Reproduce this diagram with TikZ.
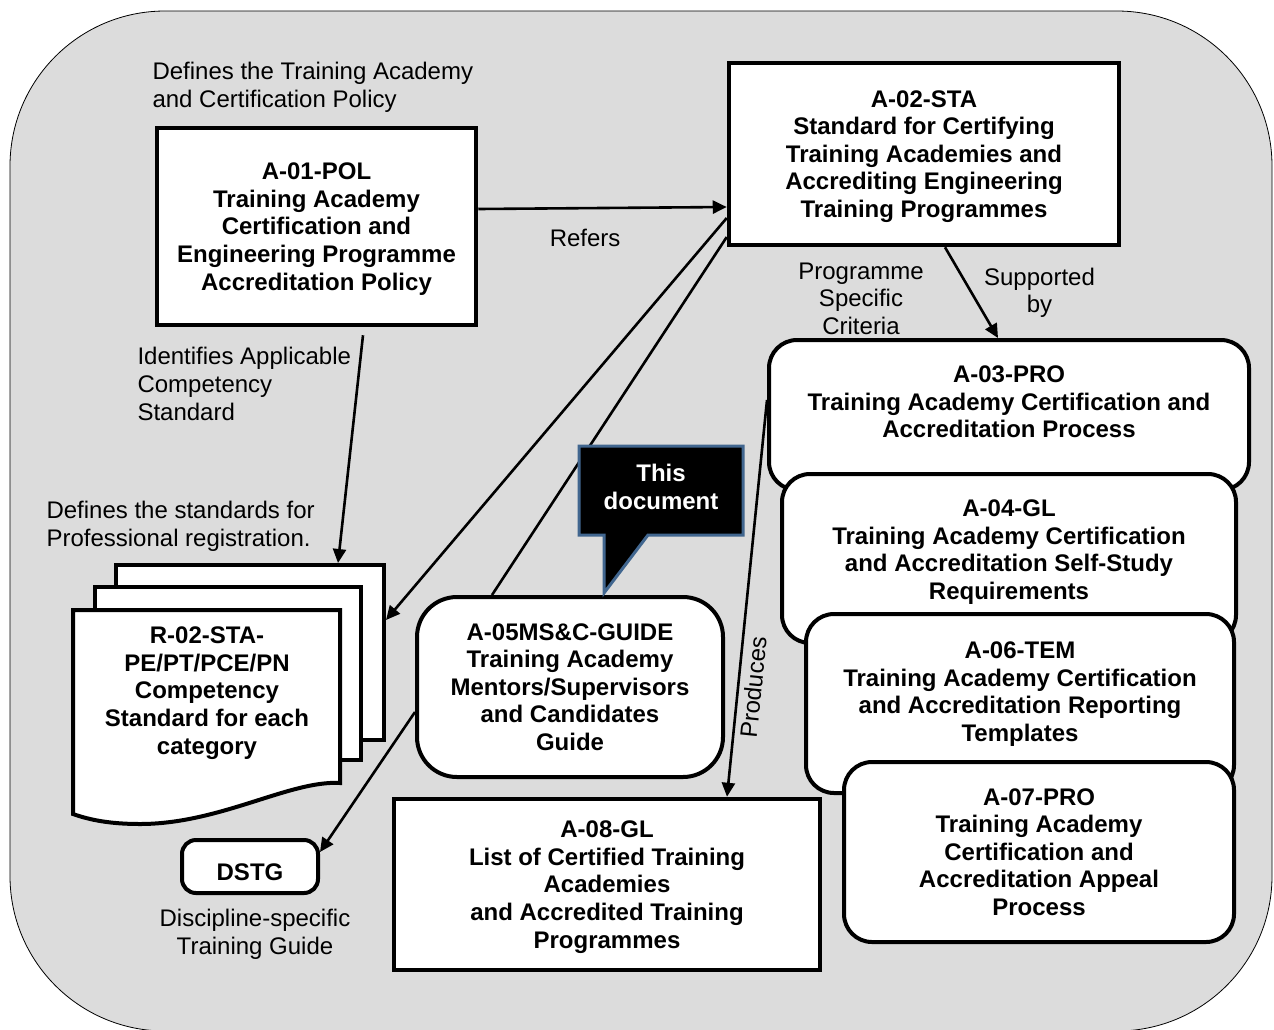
\documentclass[tikz,border=0pt]{standalone}
\usepackage{fontspec}
\setmainfont{Liberation Sans}
\usetikzlibrary{arrows.meta,positioning}

\definecolor{panelgray}{RGB}{220,220,220}
\definecolor{calloutblue}{RGB}{65,102,143}
\newcommand{\diagsize}{\fontsize{24}{27.6}\selectfont}

\tikzset{
  docbox/.style={draw, line width=4.5pt, fill=white, align=center, inner sep=0pt, font=\diagsize\bfseries},
  roundbox/.style={docbox, line width=4pt, rounded corners=28pt},
  page/.style={draw, line width=4pt, fill=white, inner sep=0pt},
  note/.style={align=center, font=\diagsize},
  link/.style={line width=2.6pt, -{Triangle[length=14pt,width=13pt]}},
  tie/.style={line width=2.6pt},
}

\begin{document}
\begin{tikzpicture}[x=1pt, y=-1pt]
  \useasboundingbox (0,0) rectangle (1274,1029);
  % grey panel behind everything
  \begin{scope}
    \clip (0,0) rectangle (1274,1029);
    \filldraw[fill=panelgray, draw=black, line width=0.8pt, rounded corners=155pt] (10,11) rectangle (1272,1031);
  \end{scope}

  % policy and standard
  \node[docbox, minimum width=319pt, minimum height=197pt, text depth=0pt] (a01) at (316.5,226.5) {A-01-POL\\Training Academy\\Certification and\\Engineering Programme\\Accreditation Policy};
  \node[docbox, minimum width=390pt, minimum height=182pt, text depth=-1pt] (a02) at (924,154) {A-02-STA\\Standard for Certifying\\Training Academies and\\Accrediting Engineering\\Training Programmes};

  % stacked process documents
  \node[roundbox, minimum width=480pt, minimum height=150pt, text depth=26pt] (a03) at (1009,415) {A-03-PRO\\Training Academy Certification and\\Accreditation Process};
  \node[roundbox, minimum width=454pt, minimum height=169pt, text depth=18pt] (a04) at (1009,558.5) {A-04-GL\\Training Academy Certification\\and Accreditation Self-Study\\Requirements};
  \node[roundbox, minimum width=428pt, minimum height=179pt, text depth=24pt] (a06) at (1020,703.5) {A-06-TEM\\Training Academy Certification\\and Accreditation Reporting\\Templates};
  \node[roundbox, minimum width=390pt, minimum height=180pt] (a07) at (1039,852) {A-07-PRO\\Training Academy\\Certification and\\Accreditation Appeal\\Process};

  \node[roundbox, rounded corners=40pt, minimum width=306pt, minimum height=180pt] (a05) at (570,687) {A-05MS\&C-GUIDE\\Training Academy\\Mentors/Supervisors\\and Candidates\\Guide};
  \node[docbox, minimum width=426pt, minimum height=171pt, text depth=-6pt] (a08) at (607,884.5) {A-08-GL\\List of Certified Training\\Academies\\and Accredited Training\\Programmes};
  \node[roundbox, rounded corners=14pt, minimum width=136pt, minimum height=53pt, text height=27pt, text depth=0pt] (dstg) at (250,866.5) {DSTG};

  % competency standard pages
  \node[page, minimum width=268pt, minimum height=175pt] (pg3) at (250,652.5) {};
  \node[page, minimum width=266pt, minimum height=173pt] (pg2) at (228,673.5) {};
  \filldraw[fill=white, line width=4pt] (73,610) -- (340,610) -- (340,783)
    .. controls (290,780) and (220,824) .. (140,824)
    .. controls (110,824) and (90,820) .. (73,814) -- cycle;
  \node[align=center, font=\diagsize\bfseries] (r02) at (207,693) {R-02-STA-\\PE/PT/PCE/PN\\Competency\\Standard for each\\category};

  % free labels
  \node[note, anchor=west, align=left] (defpol) at (149,87) {Defines the Training Academy\\and Certification Policy};
  \node[note, anchor=west, align=left] (identlbl) at (134,384) {Identifies Applicable\\Competency\\Standard};
  \node[note, anchor=west, align=left] (defstd) at (43,526) {Defines the standards for\\Professional registration.};
  \node[note] (critlbl) at (861,298.5) {Programme\\Specific\\Criteria};
  \node[note] (dstglbl) at (255,934) {Discipline-specific\\Training Guide};

  % connectors
  \draw[link] ([yshift=17.5pt]a01.east) to node[pos=0.43, below=16pt, note] {Refers} ([yshift=-53pt]a02.west);
  \draw[link] ([xshift=46.5pt,yshift=-8pt]a01.south) to ([xshift=88pt]pg3.north);
  \draw[link] ([yshift=-64pt]a02.west) to ([yshift=32.5pt]pg3.east);
  \draw[tie] ([yshift=-83pt]a02.west) to ([xshift=-78pt]a05.north);
  \draw[link] ([xshift=21pt]a02.south) to node[midway, right=8pt, note] {Supported\\by} ([xshift=-11pt]a03.north);
  \draw[link] ([yshift=15pt]a03.west) to node[pos=0.72, sloped, below, inner sep=5pt, note] {Produces} ([xshift=120pt]a08.north);
  \draw[link] ([yshift=-25pt]a05.west) to ([yshift=-14pt]dstg.north east);

  % callout
  \filldraw[fill=black, draw=calloutblue, line width=3pt] (579,446) -- (743,446) -- (743,535) -- (648,535) -- (604,593) -- (604,535) -- (579,535) -- cycle;
  \node[align=center, text=white, font=\diagsize\bfseries] (thisdoc) at (661,487) {This\\document};
\end{tikzpicture}
\end{document}
